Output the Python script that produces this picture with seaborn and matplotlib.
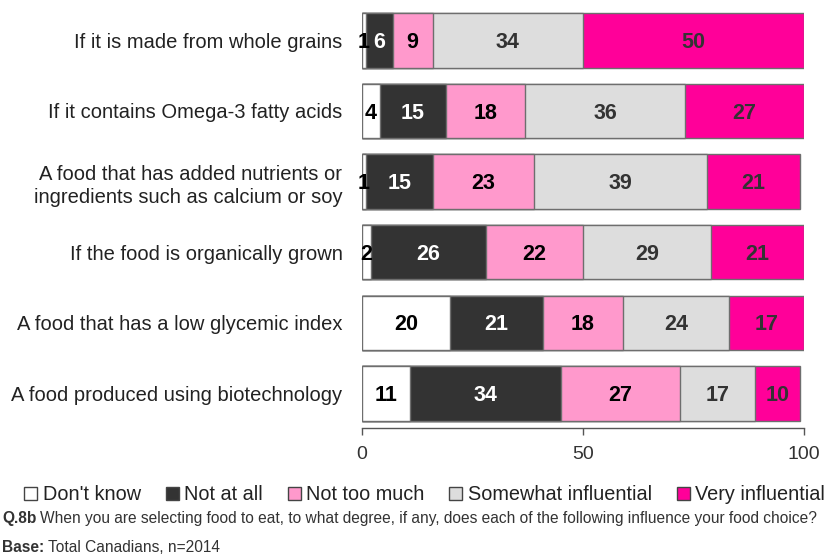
import matplotlib
matplotlib.use("Agg")
import matplotlib.pyplot as plt
import seaborn as sns
import pandas as pd
import numpy as np
from matplotlib.patches import Patch

categories = [
    "If it is made from whole grains",
    "If it contains Omega-3 fatty acids",
    "A food that has added nutrients or\ningredients such as calcium or soy",
    "If the food is organically grown",
    "A food that has a low glycemic index",
    "A food produced using biotechnology",
]
series_names = ["Don't know", "Not at all", "Not too much", "Somewhat influential", "Very influential"]
dont_know = [1, 4, 1, 2, 20, 11]
not_at_all = [6, 15, 15, 26, 21, 34]
not_too_much = [9, 18, 23, 22, 18, 27]
somewhat = [34, 36, 39, 29, 24, 17]
very = [50, 27, 21, 21, 17, 10]
x_ticks = [0, 50, 100]

colors = ["#FFFFFF", "#333333", "#FF99CC", "#DDDDDD", "#FF0099"]
label_colors = ["#000000", "#FFFFFF", "#000000", "#333333", "#333333"]

sns.set_style("white")
plt.rcParams["font.family"] = ["Liberation Sans", "DejaVu Sans"]

fig = plt.figure(figsize=(8.28, 5.57), dpi=100)
ax = fig.add_axes([0.437, 0.2316, 0.971 - 0.437, 0.991 - 0.2316])

series = [dont_know, not_at_all, not_too_much, somewhat, very]
cum = np.cumsum(np.array(series), axis=0)

# layered cumulative bars, largest first
for i in range(len(series) - 1, -1, -1):
    df = pd.DataFrame({"cat": categories, "val": cum[i]})
    sns.barplot(data=df, y="cat", x="val", orient="h", color=colors[i],
                saturation=1, width=0.77, edgecolor="#6E6E6E", linewidth=1.0, ax=ax)

# value labels
for i, vals in enumerate(series):
    for j, v in enumerate(vals):
        start = cum[i][j] - v
        ax.text(start + v / 2, j + 0.03, str(v), ha="center", va="center",
                fontsize=15.5, fontweight="bold", color=label_colors[i])

ax.set_xlim(0, 100)
ax.set_ylim(5.49, -0.5)
ax.set_xlabel("")
ax.set_ylabel("")
ax.set_xticks(x_ticks)
ax.set_xticklabels([str(t) for t in x_ticks])
for s in ["top", "right", "left"]:
    ax.spines[s].set_visible(False)
ax.spines["bottom"].set_color("#555555")
ax.spines["bottom"].set_linewidth(1.0)
ax.spines["bottom"].set_bounds(0, 100)
ax.tick_params(axis="x", which="both", bottom=True, length=5, width=1, color="#555555",
               labelsize=14, labelcolor="#333333", pad=8)
ax.tick_params(axis="y", length=0, pad=14, labelsize=14.5, labelcolor="#222222")
for lab in ax.get_yticklabels():
    lab.set_multialignment("right")
    lab.set_linespacing(1.3)

handles = [Patch(facecolor=c, edgecolor="#444444", linewidth=1.0) for c in colors]
fig.legend(handles, series_names, loc="center", bbox_to_anchor=(0.513, 0.112), ncol=5,
           frameon=False, fontsize=14.3, handlelength=0.65, handleheight=0.65,
           handletextpad=0.28, columnspacing=1.25, labelcolor="#222222")

fig.canvas.draw()
renderer = fig.canvas.get_renderer()

def mixed(x, y, bold, rest):
    t = fig.text(x, y, bold, fontsize=11.2, fontweight="bold", color="#333333", va="center")
    bb = t.get_window_extent(renderer=renderer)
    x2 = (bb.x1 + 3) / fig.bbox.width
    fig.text(x2, y, rest, fontsize=11.2, color="#333333", va="center")

mixed(0.003, 1 - 518 / 557, "Q.8b", "When you are selecting food to eat, to what degree, if any, does each of the following influence your food choice?")
mixed(0.003, 1 - 548 / 557, "Base:", "Total Canadians, n=2014")

fig.savefig("out.png", dpi=100)
